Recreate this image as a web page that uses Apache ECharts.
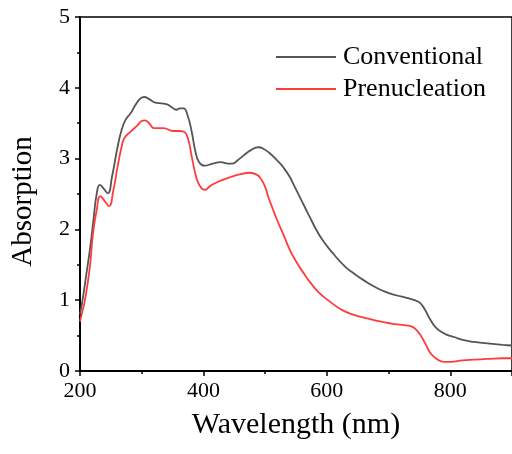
<!DOCTYPE html>
<html>
<head>
<meta charset="utf-8">
<script src="https://cdn.jsdelivr.net/npm/echarts@6/dist/echarts.min.js"></script>
<style>html,body{margin:0;padding:0;background:#fff}#c{width:512px;height:454px}</style>
</head>
<body>
<div id="c"></div>
<script>
var seriesNames = ['Conventional', 'Prenucleation'];
var xTicks = [200, 400, 600, 800];
var yTicks = [0, 1, 2, 3, 4, 5];

var convWl = [200,205,210,216,222,227,232,238,245,252,261,268,274,282,290,298,304,312,322,332,340,348,356,362,368,374,381,387,393,402,415,428,440,447,456,466,477,489,497,507,519,530,540,548,556,564,572,582,593,610,630,645,660,675,694,712,731,742,750,758,768,776,784,795,806,820,838,860,885,900];
var convAbs = [0.80,1.05,1.35,1.71,2.15,2.50,2.63,2.58,2.51,2.75,3.17,3.42,3.55,3.64,3.76,3.85,3.87,3.84,3.79,3.78,3.77,3.73,3.69,3.71,3.71,3.62,3.38,3.10,2.95,2.90,2.93,2.95,2.93,2.93,2.98,3.05,3.12,3.16,3.14,3.08,2.98,2.87,2.74,2.60,2.46,2.32,2.18,2.01,1.85,1.66,1.47,1.37,1.28,1.20,1.12,1.07,1.03,1.00,0.97,0.88,0.72,0.62,0.56,0.51,0.48,0.44,0.41,0.39,0.37,0.36];

var preWl = [200,204,208,216,221,227,233,240,247,254,261,267,272,282,293,300,305,312,320,335,351,362,370,376,381,386,391,397,402,412,423,444,460,474,487,494,500,505,511,519,530,540,550,561,575,588,605,625,645,667,686,705,722,737,745,752,760,768,778,790,800,820,838,860,885,900];
var preAbs = [0.70,0.85,1.00,1.47,1.94,2.27,2.47,2.40,2.33,2.55,2.89,3.15,3.29,3.38,3.47,3.53,3.54,3.50,3.43,3.43,3.39,3.39,3.37,3.25,3.03,2.82,2.67,2.58,2.56,2.62,2.67,2.74,2.78,2.80,2.77,2.70,2.60,2.46,2.32,2.14,1.92,1.71,1.55,1.40,1.23,1.10,0.98,0.86,0.79,0.74,0.70,0.67,0.65,0.63,0.58,0.50,0.38,0.25,0.17,0.13,0.13,0.15,0.16,0.17,0.18,0.18];

function pairs(xs, ys) { return xs.map(function (x, i) { return [x, ys[i]]; }); }

var font = 'Liberation Serif, Times New Roman, serif';
var chart = echarts.init(document.getElementById('c'), null, { renderer: 'canvas' });
chart.setOption({
  animation: false,
  backgroundColor: '#fff',
  grid: { left: 80, top: 17, right: -8, bottom: 83, show: true, borderColor: '#000', borderWidth: 1.5, containLabel: false },
  legend: {
    orient: 'vertical', left: 271, top: 39, itemWidth: 60, itemHeight: 2, itemGap: 6, icon: 'rect',
    textStyle: { fontFamily: font, fontSize: 26, color: '#000', lineHeight: 26, padding: [0, 0, 0, 2] },
    data: seriesNames
  },
  xAxis: {
    type: 'value', min: 200, max: 900, interval: 200,
    name: 'Wavelength (nm)', nameLocation: 'middle', nameGap: 39,
    nameTextStyle: { fontFamily: font, fontSize: 30, color: '#000' },
    axisLine: { lineStyle: { color: '#000', width: 2 } },
    axisTick: { show: true, length: 5, inside: false, lineStyle: { color: '#000', width: 1.5 } },
    minorTick: { show: true, splitNumber: 2, length: 3, lineStyle: { color: '#000', width: 1.5 } },
    axisLabel: { fontFamily: font, fontSize: 22, color: '#000', margin: 9, showMaxLabel: false,
      formatter: function (v) { return xTicks.indexOf(v) >= 0 ? String(v) : ''; } },
    splitLine: { show: false }
  },
  yAxis: {
    type: 'value', min: 0, max: 5, interval: 1,
    name: 'Absorption', nameLocation: 'middle', nameGap: 42, nameRotate: 90,
    nameTextStyle: { fontFamily: font, fontSize: 29, color: '#000', padding: [0, 15, 0, 0] },
    axisLine: { lineStyle: { color: '#000', width: 2 } },
    axisTick: { show: true, length: 5, inside: false, lineStyle: { color: '#000', width: 1.5 } },
    minorTick: { show: true, splitNumber: 2, length: 3, lineStyle: { color: '#000', width: 1.5 } },
    axisLabel: { fontFamily: font, fontSize: 22, color: '#000', margin: 10,
      formatter: function (v) { return yTicks.indexOf(v) >= 0 ? String(v) : ''; } },
    splitLine: { show: false }
  },
  series: [
    { name: seriesNames[0], type: 'line', showSymbol: false, smooth: 0.5, data: pairs(convWl, convAbs),
      lineStyle: { color: '#555555', width: 1.8 }, itemStyle: { color: '#555555' } },
    { name: seriesNames[1], type: 'line', showSymbol: false, smooth: 0.5, data: pairs(preWl, preAbs),
      lineStyle: { color: '#ff3c3c', width: 1.8 }, itemStyle: { color: '#ff3c3c' } }
  ]
});
</script>
</body>
</html>
